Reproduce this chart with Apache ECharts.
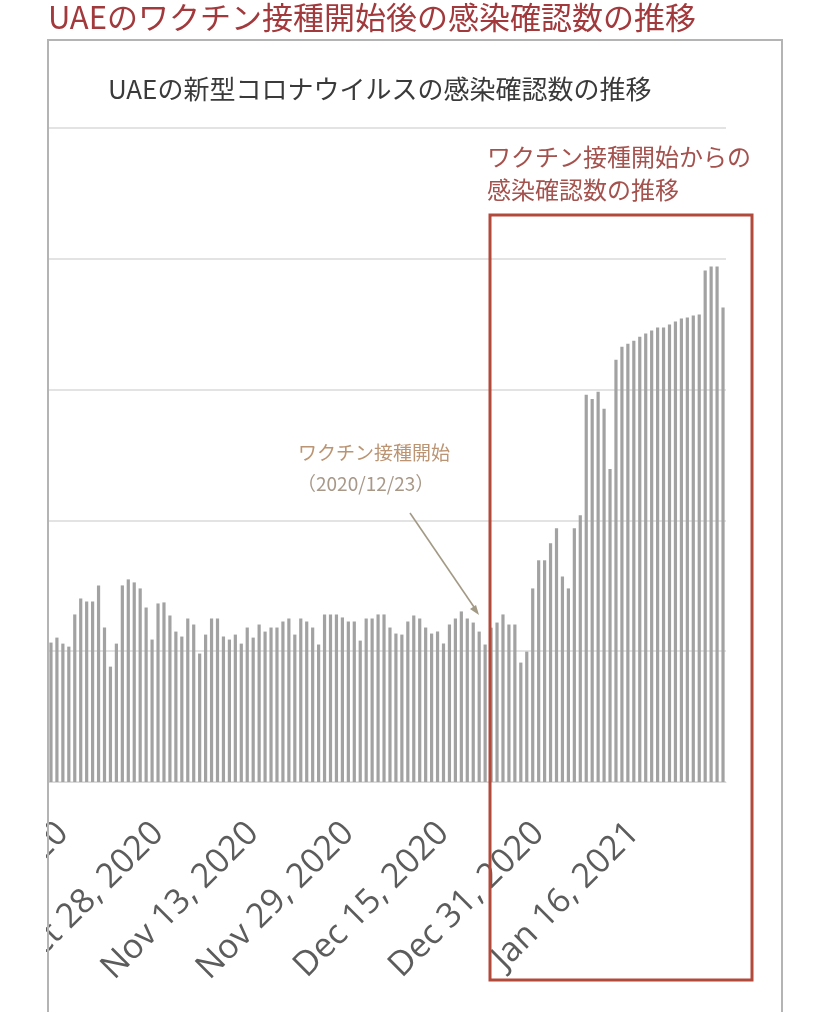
<!DOCTYPE html>
<html>
<head>
<meta charset="utf-8">
<script src="https://cdn.jsdelivr.net/npm/echarts@6/dist/echarts.min.js"></script>
<style>
    html, body { margin: 0; padding: 0; background: #fff; }
    #chart { position: absolute; left: 46px; top: 0; width: 782px; height: 1023px; }
</style>
</head>
<body>
<div id="chart"></div>
<script>
// daily confirmed cases (first bar = Oct 10, 2020)
const casesOct = [1066, 1104, 1058, 1035, 1281, 1403, 1380, 1380, 1503, 1181, 882,
    1058, 1503, 1549, 1526, 1480, 1334, 1089, 1365, 1373, 1273, 1150]
const casesNov = [1112, 1250, 1204, 982, 1127, 1250, 1250, 1112, 1089, 1127,
    1058, 1181, 1104, 1204, 1150, 1181, 1181, 1227, 1250, 1127,
    1250, 1227, 1181, 1051, 1281, 1281, 1281, 1258, 1227, 1227]
const casesDec = [1081, 1250, 1250, 1281, 1281, 1181, 1135, 1127, 1227, 1273,
    1250, 1181, 1135, 1150, 1058, 1204, 1250, 1304, 1250, 1219,
    1150, 1051, 1180, 1219, 1281, 1204, 1204, 913, 997, 1480, 1695]
const casesJan = [1695, 1825, 1940, 1572, 1480, 1940, 2040, 2960, 2929, 2983,
    2853, 2393, 3229, 3328, 3351, 3374, 3405, 3428, 3451, 3474,
    3474, 3497, 3520, 3543, 3551, 3566, 3574, 3911, 3942, 3942, 3627]
const startDate = [2020, 9, 10]
const tickLabels = ['Oct 12, 2020', 'Oct 28, 2020', 'Nov 13, 2020', 'Nov 29, 2020',
    'Dec 15, 2020', 'Dec 31, 2020', 'Jan 16, 2021']
const yTicks = [0, 1000, 2000, 3000, 4000, 5000]

const cases = [...casesOct, ...casesNov, ...casesDec, ...casesJan]
const monthNames = ['Jan', 'Feb', 'Mar', 'Apr', 'May', 'Jun', 'Jul', 'Aug', 'Sep', 'Oct', 'Nov', 'Dec']
const dates = cases.map((v, i) => {
    const d = new Date(startDate[0], startDate[1], startDate[2] + i)
    return monthNames[d.getMonth()] + ' ' + d.getDate() + ', ' + d.getFullYear()
})

const jp = '"Noto Sans CJK JP", "Noto Sans", sans-serif'
const chart = echarts.init(document.getElementById('chart'), null, { renderer: 'canvas' })

chart.setOption({
    backgroundColor: '#ffffff',
    animation: false,
    grid: { left: 2, width: 678, top: 128, height: 654, containLabel: false, outerBoundsMode: 'none' },
    xAxis: {
        type: 'category',
        data: dates,
        axisLine: { lineStyle: { color: '#d9d9d9', width: 1 } },
        axisTick: { show: false },
        axisLabel: {
            interval: (i, v) => tickLabels.indexOf(v) >= 0,
            rotate: 45,
            margin: 46,
            color: '#5c5c5c',
            fontSize: 34,
            fontFamily: '"Open Sans", sans-serif',
        },
    },
    yAxis: {
        type: 'value',
        min: yTicks[0],
        max: yTicks[yTicks.length - 1],
        interval: yTicks[1] - yTicks[0],
        axisLabel: { show: false },
        axisLine: { show: false },
        axisTick: { show: false },
        splitLine: { lineStyle: { color: '#dadada', width: 1.5 } },
    },
    series: [{
        type: 'bar',
        data: cases,
        barWidth: 3.2,
        itemStyle: { color: '#a2a2a2' },
    }],
    graphic: [
        // outer frame
        { type: 'polyline', z: 10, shape: { points: [[2, 1012], [2, 40], [736, 40], [736, 1012]] },
          style: { stroke: '#b4b4b4', lineWidth: 2, fill: null } },
        // headline above the frame
        { type: 'text', left: 2, top: 2, z: 10,
          style: { text: 'UAEのワクチン接種開始後の感染確認数の推移', fill: '#a2393c', font: '31px ' + jp } },
        // chart title inside the frame
        { type: 'text', left: 62, top: 76, z: 10,
          style: { text: 'UAEの新型コロナウイルスの感染確認数の推移', fill: '#3a3a3a', font: '26px ' + jp } },
        // boxed period label
        { type: 'text', left: 441, top: 140, z: 10,
          style: { text: 'ワクチン接種開始からの\n感染確認数の推移', fill: '#a4524e', font: '24px ' + jp, lineHeight: 33 } },
        { type: 'rect', z: 10, shape: { x: 444, y: 215, width: 262, height: 765 },
          style: { stroke: '#b24a3c', lineWidth: 3, fill: null } },
        // vaccination start note
        { type: 'text', left: 252, top: 443, z: 10,
          style: { text: 'ワクチン接種開始', fill: '#bb9473', font: '19px ' + jp } },
        { type: 'text', left: 251, top: 474, z: 10,
          style: { text: '（2020/12/23）', fill: '#a89888', font: '19px ' + jp } },
        { type: 'line', z: 10, shape: { x1: 364, y1: 513, x2: 430, y2: 610 },
          style: { stroke: '#a39a86', lineWidth: 1.6 } },
        { type: 'polygon', z: 10, shape: { points: [[433, 615], [424, 609], [430, 605]] },
          style: { fill: '#a39a86' } },
    ],
})
</script>
</body>
</html>
